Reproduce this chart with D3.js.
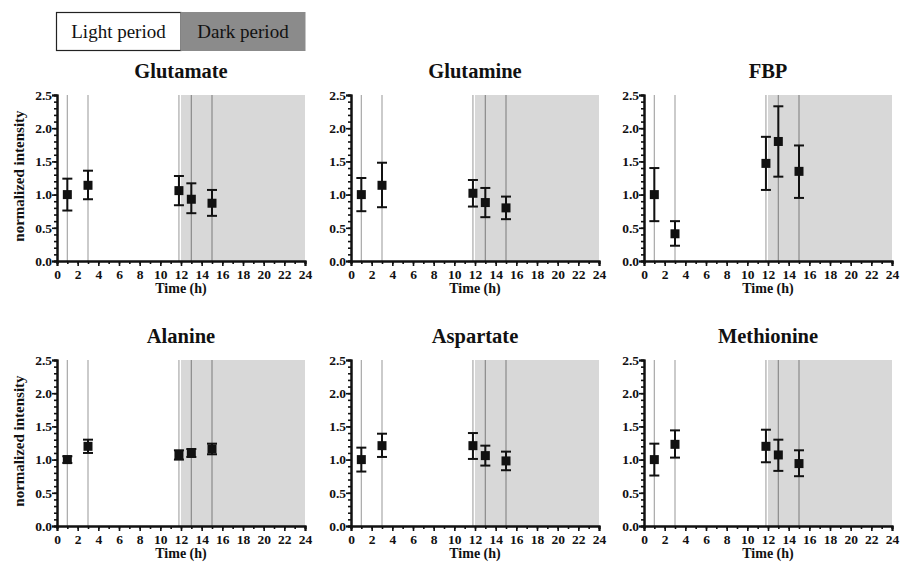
<!DOCTYPE html>
<html>
<head>
<meta charset="utf-8">
<script src="https://d3js.org/d3.v7.min.js"></script>
<style>
 body { margin: 0; background: #fff; }
 svg { display: block; font-family: "Liberation Serif", "DejaVu Serif", serif; }
 svg text { font-family: "Liberation Serif", "DejaVu Serif", serif !important; }
</style>
</head>
<body>
<svg width="902" height="564"></svg>
<script>
 // time points (h)
 const times = [1, 3, 11.8, 13, 15];
 const metabolites = ["Glutamate", "Glutamine", "FBP", "Alanine", "Aspartate", "Methionine"];
 // normalized intensity (mean) per metabolite
 const meanValues = [
     [1.00, 1.14, 1.06, 0.93, 0.87],
     [1.00, 1.14, 1.02, 0.88, 0.80],
     [1.00, 0.41, 1.47, 1.80, 1.35],
     [1.00, 1.20, 1.07, 1.10, 1.16],
     [1.00, 1.21, 1.21, 1.06, 0.98],
     [1.00, 1.23, 1.20, 1.07, 0.94]
 ];
 // error bar ends
 const lowValues = [
     [0.76, 0.93, 0.84, 0.72, 0.68],
     [0.75, 0.81, 0.82, 0.66, 0.63],
     [0.60, 0.23, 1.07, 1.27, 0.95],
     [0.95, 1.10, 1.00, 1.04, 1.08],
     [0.82, 1.04, 1.01, 0.91, 0.84],
     [0.76, 1.03, 0.96, 0.83, 0.75]
 ];
 const highValues = [
     [1.24, 1.36, 1.28, 1.17, 1.07],
     [1.25, 1.48, 1.22, 1.10, 0.97],
     [1.40, 0.60, 1.87, 2.33, 1.74],
     [1.05, 1.30, 1.14, 1.16, 1.24],
     [1.18, 1.39, 1.40, 1.21, 1.12],
     [1.24, 1.44, 1.45, 1.30, 1.14]
 ];
 const darkStart = 12, darkEnd = 24;
 const xMajor = d3.range(0, 25, 2);
 const xMinor = d3.range(0, 25, 1);
 const yMajor = [0, 0.5, 1.0, 1.5, 2.0, 2.5];
 const yMinor = d3.range(0, 26, 1).map(d => d / 10);

 const svg = d3.select("svg");

 const colX = [57, 351, 644];
 const rowY = [95, 360];
 const pw = 248, ph = 166;

 // legend
 const leg = svg.append("g");
 leg.append("rect").attr("x", 56.5).attr("y", 12.5).attr("width", 124.5).attr("height", 38)
    .attr("fill", "#fff").attr("stroke", "#222").attr("stroke-width", 1.2);
 leg.append("rect").attr("x", 181).attr("y", 12.5).attr("width", 124).attr("height", 38)
    .attr("fill", "#8b8b8b").attr("stroke", "#8b8b8b");
 leg.append("text").attr("x", 118.5).attr("y", 37.5).attr("text-anchor", "middle")
    .attr("font-size", "19px").attr("fill", "#111").text("Light period");
 leg.append("text").attr("x", 243).attr("y", 37.5).attr("text-anchor", "middle")
    .attr("font-size", "19px").attr("fill", "#111").text("Dark period");

 metabolites.forEach((name, i) => {
     const col = i % 3, row = Math.floor(i / 3);
     const g = svg.append("g").attr("transform", `translate(${colX[col]},${rowY[row]})`);
     const x = d3.scaleLinear().domain([0, 24]).range([0, pw]);
     const y = d3.scaleLinear().domain([0, 2.5]).range([ph, 0]);

     // dark period shading
     g.append("rect")
      .attr("x", x(darkStart)).attr("y", y(2.5))
      .attr("width", x(darkEnd) - x(darkStart)).attr("height", y(0) - y(2.5))
      .attr("fill", "#d8d8d8");

     // sampling time lines
     g.selectAll(".tline").data(times).join("line")
      .attr("class", "tline")
      .attr("x1", d => x(d)).attr("x2", d => x(d))
      .attr("y1", y(2.5)).attr("y2", y(0))
      .attr("stroke", d => d < darkStart ? "#a8a8a8" : "#8a8a8a").attr("stroke-width", 1.2);

     // axes
     const minorY = g.append("g").call(d3.axisLeft(y).tickValues(yMinor).tickSize(3).tickFormat(""));
     const majorY = g.append("g").call(d3.axisLeft(y).tickValues(yMajor).tickSize(5).tickFormat(d3.format(".1f")));
     const minorX = g.append("g").attr("transform", `translate(0,${ph})`)
                     .call(d3.axisBottom(x).tickValues(xMinor).tickSize(3).tickFormat(""));
     const majorX = g.append("g").attr("transform", `translate(0,${ph})`)
                     .call(d3.axisBottom(x).tickValues(xMajor).tickSize(5));
     [minorY, majorY, minorX, majorX].forEach(a => {
         a.attr("font-family", null).attr("font-size", null);
         a.selectAll("path").attr("stroke", "#111").attr("stroke-width", 2);
         a.selectAll("line").attr("stroke", "#111").attr("stroke-width", 1.6);
         a.selectAll("text")
          .style("font-weight", "bold").style("font-size", "13.5px").attr("fill", "#111");
     });
     majorY.selectAll("text").attr("x", -5);
     majorX.selectAll("text").attr("y", 8);

     // title
     svg.append("text")
        .attr("x", colX[col] + pw / 2).attr("y", rowY[row] - 17)
        .attr("text-anchor", "middle").attr("font-weight", "bold").attr("font-size", "20.5px")
        .attr("fill", "#111").text(name);

     // x label
     svg.append("text")
        .attr("x", colX[col] + pw / 2).attr("y", rowY[row] + ph + 32)
        .attr("text-anchor", "middle").attr("font-weight", "bold").attr("font-size", "14px")
        .attr("fill", "#111").text("Time (h)");

     // y label only on left column
     if (col === 0) {
         svg.append("text")
            .attr("transform", `translate(24,${rowY[row] + ph / 2 - 2}) rotate(-90)`)
            .attr("text-anchor", "middle").attr("font-weight", "bold").attr("font-size", "15px")
            .attr("fill", "#111").text("normalized intensity");
     }

     const pts = times.map((t, j) => ({t, m: meanValues[i][j], lo: lowValues[i][j], hi: highValues[i][j]}));

     // error bars
     const eb = g.selectAll(".eb").data(pts).join("g").attr("class", "eb");
     eb.append("line")
       .attr("x1", d => x(d.t)).attr("x2", d => x(d.t))
       .attr("y1", d => y(d.lo)).attr("y2", d => y(d.hi))
       .attr("stroke", "#111").attr("stroke-width", 2);
     eb.append("line")
       .attr("x1", d => x(d.t) - 5).attr("x2", d => x(d.t) + 5)
       .attr("y1", d => y(d.hi)).attr("y2", d => y(d.hi))
       .attr("stroke", "#111").attr("stroke-width", 2);
     eb.append("line")
       .attr("x1", d => x(d.t) - 5).attr("x2", d => x(d.t) + 5)
       .attr("y1", d => y(d.lo)).attr("y2", d => y(d.lo))
       .attr("stroke", "#111").attr("stroke-width", 2);

     // square markers
     g.selectAll(".pt").data(pts).join("rect")
      .attr("class", "pt")
      .attr("x", d => x(d.t) - 4.5).attr("y", d => y(d.m) - 4.5)
      .attr("width", 9).attr("height", 9)
      .attr("fill", "#111");
 });
</script>
</body>
</html>
